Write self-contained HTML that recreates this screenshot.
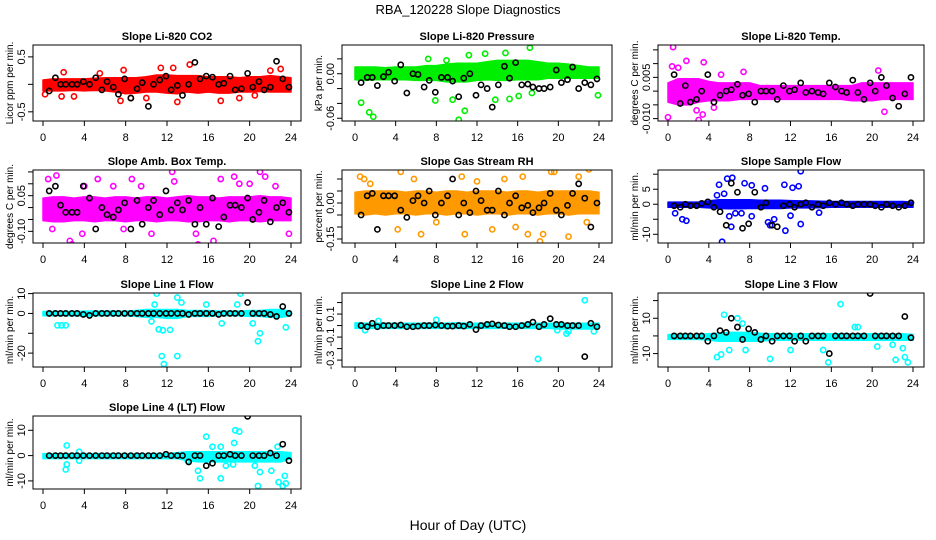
<!DOCTYPE html>
<html><head><meta charset="utf-8"><style>
html,body{margin:0;padding:0;background:#fff;}
svg{display:block;font-family:"Liberation Sans",sans-serif;}
</style></head><body>
<svg id="chart" width="936" height="540" viewBox="0 0 936 540" xmlns="http://www.w3.org/2000/svg">
<text x="468" y="14" text-anchor="middle" font-size="13">RBA_120228  Slope Diagnostics</text>
<text x="468" y="530" text-anchor="middle" font-size="14">Hour of Day (UTC)</text>
</svg>
<script>
const xTicks = [0,4,8,12,16,20,24];
const bandH = [0,1,2,3,4,5,6,7,8,9,10,11,12,13,14,15,16,17,18,19,20,21,22,23,24];
const blkH = [0.6,1.2,1.7,2.2,2.8,3.3,3.9,4.5,5.1,5.7,6.2,6.8,7.3,7.9,8.5,9.1,9.6,10.2,10.7,11.3,11.9,12.4,13,13.5,14.1,14.7,15.2,15.8,16.4,17,17.5,18.1,18.6,19.2,19.8,20.3,20.9,21.4,22,22.6,23.2,23.8];

// CO2
const co2Lo = [-0.12,-0.12,-0.12,-0.11,-0.12,-0.11,-0.12,-0.14,-0.17,-0.16,-0.14,-0.14,-0.16,-0.17,-0.14,-0.16,-0.14,-0.16,-0.16,-0.14,-0.14,-0.13,-0.14,-0.14,-0.14];
const co2Hi = [0.08,0.1,0.1,0.1,0.1,0.11,0.12,0.12,0.12,0.12,0.14,0.17,0.17,0.16,0.16,0.16,0.14,0.14,0.14,0.12,0.14,0.14,0.16,0.14,0.12];
const co2Out = [[18,0.9],[22.8,-0.78],[14.2,0.36],[12.6,0.3],[11.4,0.3],[7.5,-0.3],[8.5,-0.25],[13,-0.32],[17.2,-0.3],[19,-0.25],[0.2,-0.18],[2,0.22],[3,-0.22],[23,0.28],[7.8,0.26],[10,-0.25],[1.8,-0.22],[22,0.25],[5.5,0.2],[20.5,-0.2]];
const co2Blk = [-0.12,0.12,0.0,0.0,0.0,0.0,0.05,0.0,0.12,-0.1,0.05,-0.05,-0.18,0.1,-0.25,-0.08,0.03,-0.4,0.0,0.08,0.15,-0.1,-0.02,-0.2,0.0,0.4,0.1,0.15,0.13,0.0,0.02,0.15,-0.1,-0.08,0.2,-0.05,0.05,-0.1,-0.05,0.42,0.1,-0.05];
// Pressure
const prLo = [-0.008,-0.009,-0.008,-0.008,-0.008,-0.008,-0.009,-0.009,-0.009,-0.011,-0.011,-0.011,-0.009,-0.008,-0.009,-0.009,-0.008,-0.008,-0.008,-0.006,-0.006,-0.006,-0.006,-0.006,-0.006];
const prHi = [0.009,0.009,0.009,0.008,0.009,0.009,0.009,0.011,0.011,0.013,0.014,0.014,0.014,0.016,0.018,0.018,0.018,0.018,0.016,0.014,0.014,0.013,0.011,0.009,0.009];
const prOut = [[0.6,-0.039],[1.4,-0.052],[1.8,-0.058],[10.2,-0.062],[10.8,-0.05],[7.9,-0.036],[9.6,-0.035],[13.8,-0.035],[15.2,-0.034],[17.2,0.035],[14.8,0.028],[11.2,0.025],[7.2,0.02],[23.9,-0.029],[16.1,-0.03],[17.4,-0.026],[12.8,0.027],[9,0.018]];
const prBlk = [-0.012,-0.005,-0.005,-0.016,-0.004,0.002,-0.01,0.012,-0.026,0.0,-0.001,-0.018,-0.009,-0.025,-0.005,-0.005,-0.01,-0.031,-0.006,0.0,-0.029,-0.015,-0.02,-0.045,-0.015,0.01,-0.006,0.015,-0.015,-0.014,-0.018,-0.02,-0.02,-0.018,0.005,-0.012,-0.008,0.009,-0.02,-0.012,-0.015,-0.007];
// Li-820 Temp
const ltLo = [-0.004,-0.005,-0.005,-0.004,-0.0035,-0.0035,-0.0035,-0.003,-0.003,-0.003,-0.003,-0.003,-0.003,-0.003,-0.003,-0.003,-0.003,-0.003,-0.0035,-0.0035,-0.0035,-0.003,-0.003,-0.003,-0.003];
const ltHi = [0.003,0.0045,0.0045,0.0045,0.0035,0.003,0.003,0.003,0.003,0.002,0.002,0.002,0.002,0.002,0.002,0.002,0.002,0.002,0.002,0.003,0.003,0.003,0.003,0.003,0.003];
const ltOut = [[0.5,0.016],[0,-0.0095],[1.8,0.011],[3,-0.0105],[3.5,0.0105],[2.8,-0.007],[0.4,0.009],[7.4,0.007],[20.6,0.0075],[21.2,-0.0075],[1,0.0085],[3.4,-0.0085],[5.2,0.006],[4.5,-0.006]];
const ltBlk = [0.006,-0.0045,0.002,-0.004,-0.003,0.0,0.006,-0.004,-0.0015,0.0,0.0005,0.0025,-0.0015,-0.001,-0.004,0.0,0.0,0.0,-0.003,0.002,0.0,0.0005,0.003,-0.0005,0.0,-0.0005,-0.001,0.003,0.0015,0.0,-0.0005,0.004,-0.0005,-0.003,0.003,0.0,0.005,0.002,-0.0025,-0.0055,-0.001,0.005];
// Amb box temp
const abLo = [-0.055,-0.06,-0.06,-0.055,-0.055,-0.06,-0.055,-0.055,-0.06,-0.055,-0.055,-0.06,-0.055,-0.055,-0.06,-0.06,-0.055,-0.055,-0.06,-0.055,-0.055,-0.06,-0.055,-0.055,-0.055];
const abHi = [0.04,0.045,0.045,0.04,0.045,0.045,0.04,0.045,0.045,0.04,0.045,0.045,0.04,0.045,0.05,0.045,0.045,0.04,0.045,0.045,0.045,0.05,0.045,0.045,0.04];
const abOut = [[0.5,0.12],[1.3,0.135],[2.6,-0.14],[2.8,-0.155],[5.3,0.12],[12.5,0.15],[12.7,0.11],[21,0.15],[21.5,0.13],[15,-0.155],[16.5,-0.14],[18.5,0.13],[8.6,0.12],[3.8,-0.11],[0.9,-0.09],[7.8,-0.09],[14.8,-0.11],[10.5,-0.11],[23.8,-0.11],[20,0.1],[9.5,0.09],[4,0.09],[6.8,0.09],[19,0.1],[22.5,0.09],[17.2,0.12]];
const abBlk = [0.07,0.09,0.01,-0.02,-0.02,-0.02,0.09,0.04,-0.09,0.0,-0.03,-0.04,-0.01,0.02,-0.09,0.03,-0.07,0.0,0.03,-0.03,0.07,-0.01,0.02,-0.01,0.03,-0.07,0.0,-0.07,0.04,-0.08,-0.04,0.01,0.01,0.0,0.04,-0.05,-0.02,0.03,-0.06,0.0,0.02,-0.02];
// RH
const rhLo = [-0.045,-0.05,-0.045,-0.05,-0.045,-0.045,-0.05,-0.045,-0.045,-0.05,-0.045,-0.045,-0.05,-0.045,-0.045,-0.05,-0.045,-0.045,-0.05,-0.045,-0.045,-0.05,-0.045,-0.045,-0.045];
const rhHi = [0.045,0.05,0.05,0.05,0.05,0.045,0.05,0.05,0.045,0.05,0.05,0.045,0.05,0.05,0.05,0.045,0.05,0.05,0.045,0.05,0.05,0.05,0.05,0.05,0.045];
const rhOut = [[0.5,0.11],[0.9,0.1],[4.5,0.13],[5.8,0.1],[10.5,0.11],[14.7,0.1],[16.5,0.11],[19.3,0.13],[19.6,0.13],[22,0.11],[23,0.14],[18.2,-0.16],[18.5,-0.13],[21,-0.14],[17,-0.13],[10.8,-0.13],[6.5,-0.13],[4.2,-0.11],[13.5,-0.11],[8,-0.08],[22.8,-0.08],[1.5,0.08],[15.8,-0.1],[12,0.09]];
const rhBlk = [-0.05,0.03,0.04,-0.11,0.03,0.03,0.03,-0.03,-0.06,0.01,0.03,0.0,0.05,-0.05,0.0,0.03,0.1,-0.05,0.0,-0.04,0.05,0.01,-0.03,-0.03,0.05,-0.05,0.0,0.03,-0.02,-0.01,-0.04,-0.02,0.0,0.04,-0.03,-0.05,-0.01,0.04,0.08,0.02,-0.1,0.0];
// Sample flow
const sfLo = [-1,-1,-1,-1,-1.2,-1.4,-1.5,-1.5,-1.4,-1.4,-1.4,-1.4,-1.2,-1.2,-1.2,-1.1,-1,-1,-1,-1,-1,-1,-1,-1,-1];
const sfHi = [0.7,0.7,0.7,0.7,1.1,1.5,1.5,1.5,1.5,1.3,1.3,1.3,1.2,1.1,1.1,1,0.9,0.9,0.9,0.9,0.9,0.9,0.9,0.9,0.7];
const sfOut = [[5.3,-12.5],[13,11],[5.8,8.5],[6.3,8.8],[5,6.5],[7.5,7],[11.4,6.5],[12.8,6],[12.2,5.5],[9.5,5.3],[8.2,6.3],[6,-4],[6.2,-7.5],[7.2,-3],[9.8,-6],[10.4,-5],[11.5,-8.8],[13,-6.6],[12,-3.8],[1.4,-5],[1.8,-5.5],[0.7,-3],[14.8,-2.8],[4.8,3],[5.5,3.5],[10,-7],[6.6,-3],[8.2,-4]];
const sfBlk = [-0.5,-1,0,-0.5,-0.5,0.3,0.8,-1,-2.5,-7,7,4,-8,-6.5,4,-1,0.5,-7,-7.5,-0.5,0,-1,0,0.5,-1,0,-0.5,0.5,0,0.5,0,-0.5,0,0,0,-0.5,-1,0,-0.5,-1,-0.5,0.5];
// Line 1
const l1Lo = [-1.2,-1.2,-1.2,-1.2,-1.5,-1.2,-1.2,-1.2,-1.2,-1.5,-2,-2,-2.5,-2.5,-1.5,-1.5,-1.5,-1.2,-1.2,-1.2,-1.5,-1.5,-2,-2,-1.2];
const l1Hi = [1,1,1,1,1.2,1.2,1.2,1.2,1.2,1.5,2,2,2,2,1.5,1.5,1.5,1.2,1.2,1.2,1.5,1.5,2,2,1.2];
const l1Out = [[11,10],[19.1,10],[13,8],[13.4,5.5],[10.8,4.5],[15.8,4.5],[18.8,4.5],[1.4,-6],[1.8,-6],[2.2,-6],[11.6,-8.5],[11.2,-8],[12.3,-8.3],[11.5,-21.5],[11.7,-25.5],[13,-21.5],[20.8,-14],[21,-10],[23.5,-7],[20.3,-5],[17.3,-5],[10.5,-4]];
const l1Blk = [0,0,0,0,0,0,-0.5,-1,0,0,0,0,0,0,0,0,0,0,0,0,0,0,0,0,-0.5,0,0,0,0,-0.5,0,0,0,0,5.5,0,0,0,-0.5,-1.5,3.5,0];
// Line 2
const l2Lo = [-0.025,-0.025,-0.025,-0.025,-0.025,-0.025,-0.025,-0.025,-0.025,-0.025,-0.025,-0.025,-0.025,-0.025,-0.025,-0.025,-0.025,-0.025,-0.025,-0.025,-0.03,-0.03,-0.03,-0.03,-0.025];
const l2Hi = [0.025,0.02,0.02,0.02,0.02,0.02,0.02,0.02,0.02,0.02,0.025,0.02,0.02,0.02,0.02,0.02,0.02,0.02,0.02,0.02,0.02,0.02,0.02,0.02,0.02];
const l2Out = [[22.6,0.22],[18,-0.29],[20.8,-0.07],[21,-0.05],[23.5,-0.05],[1,-0.04],[2.3,0.04],[8,0.05],[19.9,-0.04]];
const l2Blk = [0,-0.01,0.02,-0.01,0,0,0,0.005,-0.01,-0.01,-0.005,0,0,0.005,0,-0.005,-0.005,0,-0.005,0.01,-0.035,0,0.01,0.015,0.005,0,-0.01,-0.01,0,0.01,0.03,-0.01,0.01,0.06,0.01,0.01,0,0,0,-0.27,0.02,-0.01];
// Line 3
const l3Lo = [-2,-2,-2,-2,-2.5,-3,-3,-3,-3,-3,-2.5,-2.5,-2.5,-2.5,-2.5,-2.5,-2.5,-2.5,-2.5,-2.5,-2.5,-2.5,-2.5,-2.5,-2.5];
const l3Hi = [0.8,0.8,0.8,0.8,1.2,1.5,2,2,2,1.5,1.2,1.2,1.2,1.2,1.2,1.2,1.2,1.2,1.2,1.2,1.2,1.2,1.2,1.2,0.8];
const l3Out = [[5.5,12],[6.8,10],[7.3,7],[16.9,18],[18.3,5],[18.6,5],[5.2,-10.5],[6,-8],[4.8,-12],[10,-13],[7.6,-8],[12,-8],[15.2,-8],[15.7,-15],[20.5,-6],[22.3,-13.5],[23.2,-12],[23.5,-15],[23,-7],[22,-5]];
const l3Blk = [0,0,0,0,0,0,-3,0,3,2,10,5,-2,4,2,-2,0,-3,0,0,0,-3,0,-3,0,0,0,-10,0,0,0,0,0,0,24,0,0,0,0,0,11,-1];
// Line 4
const l4Lo = [-1.2,-1.2,-1.2,-1.2,-1.2,-1.2,-1.2,-1.2,-1.2,-1.2,-1.2,-1.2,-1.2,-1.2,-2,-2.5,-2.5,-2.5,-2.5,-2.5,-2.5,-2.5,-2.5,-2.5,-1.2];
const l4Hi = [0.8,0.8,0.8,0.8,0.8,0.8,0.8,0.8,0.8,0.8,0.8,0.8,0.8,1.2,1.5,1.5,1.5,1.5,1.5,1.5,1.5,1.5,1.5,1.5,1.2];
const l4Out = [[2.3,4],[2.2,-5.5],[2.3,-3.5],[3.5,1.5],[3.5,-2],[15.8,7.5],[18.6,10],[19,9.5],[15,-6],[15.2,-9],[16.4,3.5],[17.2,3.5],[17.2,-9],[17.7,-4],[18.4,-3.5],[18.5,5],[20.5,-4],[20.8,-12],[21,-6.5],[22.1,-6],[22.8,-10.5],[23.2,-12],[23.5,-11],[23.4,-8],[22.7,3.5],[14,-2]];
const l4Blk = [0,0,0,0,0,0,0,0,0,0,0,0,0,0,0,0,0,0,0,0,0.5,0,0,0,-2.5,0,0,-4,-3,0,0,0.5,0,0,15.5,0,0,0,1,0,4.5,-2];

const panels = [
 {id:'co2',title:'Slope Li-820 CO2',ylab:'Licor ppm per min.',col:0,row:0,ylim:[-0.667,0.716],ticks:[-0.5,0,0.5],labels:['-0.5',null,'0.5'],color:'#ff0000',lo:co2Lo,hi:co2Hi,out:co2Out,blk:co2Blk},
 {id:'pressure',title:'Slope Li-820 Pressure',ylab:'kPa per min.',col:1,row:0,ylim:[-0.0637,0.0387],ticks:[-0.06,-0.04,-0.02,0,0.02],labels:['-0.06',null,null,'0.00',null],color:'#00ee00',lo:prLo,hi:prHi,out:prOut,blk:prBlk},
 {id:'li820-temp',title:'Slope Li-820 Temp.',ylab:'degrees C per min.',col:2,row:0,ylim:[-0.01087,0.01677],ticks:[-0.01,-0.005,0,0.005,0.01,0.015],labels:['-0.010',null,null,'0.005',null,null],color:'#ff00ff',lo:ltLo,hi:ltHi,out:ltOut,blk:ltBlk},
 {id:'amb-box-temp',title:'Slope Amb. Box Temp.',ylab:'degrees C per min.',col:0,row:1,ylim:[-0.149,0.158],ticks:[-0.1,-0.05,0,0.05,0.1,0.15],labels:['-0.10',null,null,'0.05',null,null],color:'#ff00ff',lo:abLo,hi:abHi,out:abOut,blk:abBlk},
 {id:'gas-stream-rh',title:'Slope Gas Stream RH',ylab:'percent per min.',col:1,row:1,ylim:[-0.1667,0.1375],ticks:[-0.15,-0.1,-0.05,0,0.05,0.1],labels:['-0.15',null,null,'0.00',null,null],color:'#ff9900',lo:rhLo,hi:rhHi,out:rhOut,blk:rhBlk},
 {id:'sample-flow',title:'Slope Sample Flow',ylab:'ml/min per min.',col:2,row:1,ylim:[-12.9,11.4],ticks:[-10,-5,0,5,10],labels:['-10',null,'0','5',null],color:'#0000ff',lo:sfLo,hi:sfHi,out:sfOut,blk:sfBlk},
 {id:'line1-flow',title:'Slope Line 1 Flow',ylab:'ml/min per min.',col:0,row:2,ylim:[-27,10.3],ticks:[-20,-10,0,10],labels:['-20',null,'0','10'],color:'#00ffff',lo:l1Lo,hi:l1Hi,out:l1Out,blk:l1Blk},
 {id:'line2-flow',title:'Slope Line 2 Flow',ylab:'ml/min per min.',col:1,row:2,ylim:[-0.36,0.283],ticks:[-0.3,-0.2,-0.1,0,0.1,0.2],labels:['-0.3',null,'-0.1',null,'0.1',null],color:'#00ffff',lo:l2Lo,hi:l2Hi,out:l2Out,blk:l2Blk},
 {id:'line3-flow',title:'Slope Line 3 Flow',ylab:'ml/min per min.',col:2,row:2,ylim:[-17.6,24.3],ticks:[-10,0,10,20],labels:['-10',null,'10',null],color:'#00ffff',lo:l3Lo,hi:l3Hi,out:l3Out,blk:l3Blk},
 {id:'line4-flow',title:'Slope Line 4 (LT) Flow',ylab:'ml/min per min.',col:0,row:3,ylim:[-13.2,15.65],ticks:[-10,0,10],labels:['-10','0','10'],color:'#00ffff',lo:l4Lo,hi:l4Hi,out:l4Out,blk:l4Blk}
];
const cols = [{l:33,r:301,x0:43,x1:291},{l:342,r:612,x0:355,x1:599},{l:658,r:924,x0:668,x1:913}];
const rows = [{t:45,b:121},{t:170,b:243},{t:293,b:367},{t:416,b:489}];
const NS = 'http://www.w3.org/2000/svg';
const svg = document.getElementById('chart');
function mk(tag, attrs, parent){
  const e = document.createElementNS(NS, tag);
  for (const k in attrs) e.setAttribute(k, attrs[k]);
  (parent||svg).appendChild(e);
  return e;
}
panels.forEach(p => {
  const c = cols[p.col], r = rows[p.row];
  const xs = h => c.x0 + (h/24)*(c.x1-c.x0);
  const ys = v => r.b - (v - p.ylim[0])/(p.ylim[1]-p.ylim[0])*(r.b-r.t);
  const g = mk('g', {});
  
  
  const cid = 'clip-' + p.id;
  const cp = mk('clipPath', {id: cid}, g);
  mk('rect', {x:c.l, y:r.t, width:c.r-c.l, height:r.b-r.t}, cp);
  const title = mk('text', {x:(c.l+c.r)/2, y:r.t-5, 'text-anchor':'middle', 'font-size':11, 'font-weight':'bold'}, g);
  title.textContent = p.title;
  
  
  const yl = mk('text', {transform:`translate(${c.l-20},${(r.t+r.b)/2}) rotate(-90)`, 'text-anchor':'middle', 'font-size':10}, g);
  yl.textContent = p.ylab;
  
  
  const plot = mk('g', {'clip-path':`url(#${cid})`}, g);
  let d = 'M' + bandH.map((h,i)=>xs(h).toFixed(1)+','+ys(p.hi[i]).toFixed(1)).join('L');
  d += 'L' + bandH.slice().reverse().map((h,j)=>{const i=bandH.length-1-j;return xs(h).toFixed(1)+','+ys(p.lo[i]).toFixed(1);}).join('L') + 'Z';
  const band = mk('path', {d:d, fill:p.color, stroke:p.color, 'stroke-width':1.5, 'stroke-linejoin':'round'}, plot);
  
  
  p.out.forEach(o => {
    const pt = mk('circle', {cx:xs(o[0]), cy:ys(o[1]), r:2.6, fill:'none', stroke:p.color, 'stroke-width':1.6}, plot);
    
    
  });
  p.blk.forEach((v,i) => {
    const pt = mk('circle', {cx:xs(blkH[i]), cy:ys(v), r:2.6, fill:'none', stroke:'#000', 'stroke-width':1.6}, plot);
    
    
  });
  const box = mk('rect', {x:c.l, y:r.t, width:c.r-c.l, height:r.b-r.t, fill:'none', stroke:'#000', 'stroke-width':1}, g);
  
  
  xTicks.forEach(t => {
    const x = xs(t);
    mk('line', {x1:x, x2:x, y1:r.b, y2:r.b+5, stroke:'#000'}, g);
    const tl = mk('text', {x:x, y:r.b+20, 'text-anchor':'middle', 'font-size':11}, g);
    tl.textContent = t;
    
    
  });
  p.ticks.forEach((t,i) => {
    const y = ys(t);
    mk('line', {x1:c.l-5, x2:c.l, y1:y, y2:y, stroke:'#000'}, g);
    if (p.labels[i] !== null) {
      const tl = mk('text', {transform:`translate(${c.l-8},${y}) rotate(-90)`, 'text-anchor':'middle', 'font-size':11}, g);
      tl.textContent = p.labels[i];
      
      
    }
  });
});
</script>
</body></html>
